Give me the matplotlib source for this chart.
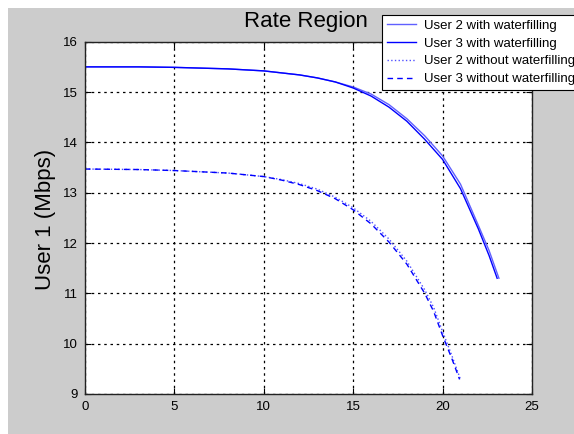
import matplotlib
matplotlib.use("Agg")
import matplotlib.pyplot as plt
from matplotlib.patches import Rectangle

plt.rcParams['font.family'] = ['Liberation Sans', 'DejaVu Sans']

# rate region curves (User 2 rate on x, User 1 rate on y)
x_wf2 = [0, 3, 5, 8, 10, 12, 13, 14, 15, 16, 17, 18, 19, 20, 21, 22, 22.6, 23.15]
y_wf2 = [15.5, 15.5, 15.49, 15.46, 15.42, 15.34, 15.28, 15.2, 15.1, 14.96, 14.75, 14.47, 14.13, 13.73, 13.17, 12.35, 11.85, 11.3]
x_wf3 = [0, 3, 5, 8, 10, 12, 13, 14, 15, 16, 17, 18, 19, 20, 21, 22, 22.6, 23.05]
y_wf3 = [15.5, 15.5, 15.49, 15.46, 15.42, 15.34, 15.28, 15.2, 15.08, 14.92, 14.7, 14.42, 14.06, 13.66, 13.08, 12.28, 11.75, 11.3]
x_nw2 = [0, 3, 5, 8, 10, 11, 12, 13, 14, 15, 16, 17, 18, 19, 19.5, 20, 20.5, 21]
y_nw2 = [13.47, 13.46, 13.44, 13.39, 13.32, 13.26, 13.18, 13.07, 12.91, 12.7, 12.43, 12.08, 11.64, 11.07, 10.72, 10.24, 9.78, 9.29]
x_nw3 = [0, 3, 5, 8, 10, 11, 12, 13, 14, 15, 16, 17, 18, 19, 19.5, 20, 20.5, 20.95]
y_nw3 = [13.47, 13.46, 13.44, 13.39, 13.32, 13.25, 13.16, 13.04, 12.88, 12.66, 12.38, 12.02, 11.58, 11.0, 10.64, 10.16, 9.72, 9.29]

labels = ['User 2 with waterfilling', 'User 3 with waterfilling',
          'User 2 without waterfilling', 'User 3 without waterfilling']

fig = plt.figure(figsize=(5.74, 4.34), dpi=100, facecolor='white')
fig.patches.append(Rectangle((8 / 574, 0), 1, 1 - 8 / 434, transform=fig.transFigure,
                             facecolor='#cccccc', edgecolor='none', zorder=-10))

ax = fig.add_axes([85 / 574, 1 - 394 / 434, 447 / 574, 352.3 / 434])
ax.set_facecolor('white')

ax.plot(x_wf2, y_wf2, '-', color='#6060ff', lw=1.0, label=labels[0])
ax.plot(x_wf3, y_wf3, '-', color='#0000ff', lw=1.0, label=labels[1])
ax.plot(x_nw2, y_nw2, ':', color='#5050ff', lw=1.0, label=labels[2])
ax.plot(x_nw3, y_nw3, '--', color='#0000ff', lw=1.0, dashes=(4, 3), label=labels[3])

ax.set_xlim(0, 25)
ax.set_ylim(9, 16)
ax.set_xticks(range(0, 26, 5))
ax.set_yticks(range(9, 17))
ax.grid(True, color='black', linestyle=(0, (2, 3)), linewidth=0.9)
ax.tick_params(direction='in', length=4, top=True, right=True, labelsize=9.5, pad=5, width=0.8)
for s in ax.spines.values():
    s.set_color('#222222')
    s.set_linewidth(1.0)

fig.text(306 / 574, 1 - 21 / 434, 'Rate Region', ha='center', va='center', fontsize=16)
fig.text(45 / 574, 1 - 219 / 434, 'User 1 (Mbps)', ha='center', va='center',
         rotation=90, fontsize=16)

leg = ax.legend(loc='upper left', bbox_to_anchor=(382 / 574, 1 - 15 / 434),
                bbox_transform=fig.transFigure, borderaxespad=0, fancybox=False,
                framealpha=1, edgecolor='black', fontsize=9.5, handlelength=2.2,
                handletextpad=0.6, labelspacing=0.42, borderpad=0.35)
leg.get_frame().set_linewidth(0.8)

fig.savefig('out.png', dpi=100, facecolor=fig.get_facecolor())
